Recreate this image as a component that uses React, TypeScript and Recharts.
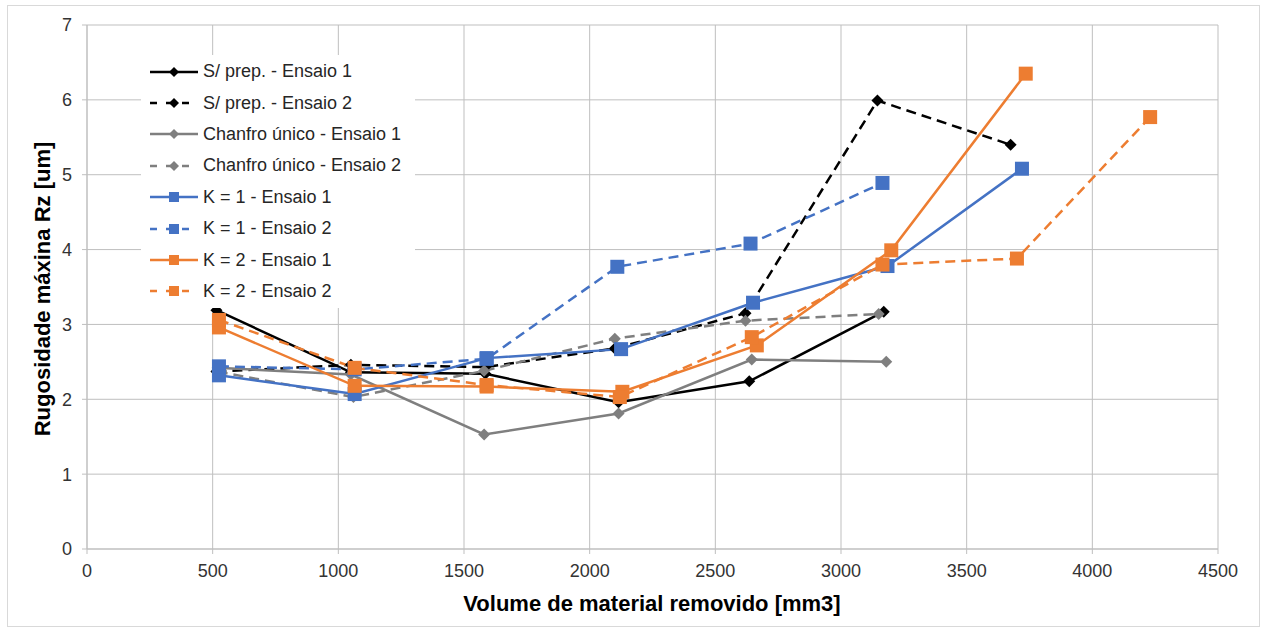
import React from "react";
import { LineChart, Line, XAxis, YAxis, CartesianGrid, Label } from "recharts";

const X_TICKS = [0, 500, 1000, 1500, 2000, 2500, 3000, 3500, 4000, 4500];
const Y_TICKS = [0, 1, 2, 3, 4, 5, 6, 7];

const spE1X = [515, 1050, 1585, 2115, 2635, 3170];
const spE1Y = [3.19, 2.36, 2.34, 1.96, 2.24, 3.17];
const spE2X = [515, 1050, 1585, 2100, 2620, 3145, 3675];
const spE2Y = [2.37, 2.46, 2.43, 2.68, 3.15, 5.99, 5.4];
const chE1X = [520, 1050, 1580, 2115, 2645, 3180];
const chE1Y = [2.42, 2.33, 1.53, 1.81, 2.53, 2.5];
const chE2X = [520, 1060, 1580, 2100, 2620, 3150];
const chE2Y = [2.37, 2.03, 2.38, 2.81, 3.05, 3.14];
const k1E1X = [525, 1065, 1590, 2125, 2650, 3185, 3720];
const k1E1Y = [2.32, 2.07, 2.55, 2.67, 3.29, 3.78, 5.08];
const k1E2X = [525, 1065, 1590, 2110, 2640, 3165];
const k1E2Y = [2.44, 2.4, 2.54, 3.77, 4.08, 4.89];
const k2E1X = [525, 1065, 1590, 2130, 2665, 3200, 3735];
const k2E1Y = [2.96, 2.18, 2.17, 2.1, 2.72, 3.99, 6.35];
const k2E2X = [525, 1065, 1590, 2120, 2645, 3165, 3700, 4230];
const k2E2Y = [3.06, 2.42, 2.19, 2.03, 2.83, 3.8, 3.88, 5.77];

const BLACK = "#000000";
const GRAY = "#7f7f7f";
const BLUE = "#4472c4";
const ORANGE = "#ed7d31";
const DASH = "10 6";
const FONT = "'Liberation Sans', Arial, sans-serif";

const zip = (xs: number[], ys: number[]) => xs.map((x, i) => ({ x, y: ys[i] }));

type Shape = "diamond" | "square";

const series: { name: string; data: { x: number; y: number }[]; color: string; dashed: boolean; shape: Shape }[] = [
  { name: "S/ prep. - Ensaio 1", data: zip(spE1X, spE1Y), color: BLACK, dashed: false, shape: "diamond" },
  { name: "S/ prep. - Ensaio 2", data: zip(spE2X, spE2Y), color: BLACK, dashed: true, shape: "diamond" },
  { name: "Chanfro único - Ensaio 1", data: zip(chE1X, chE1Y), color: GRAY, dashed: false, shape: "diamond" },
  { name: "Chanfro único - Ensaio 2", data: zip(chE2X, chE2Y), color: GRAY, dashed: true, shape: "diamond" },
  { name: "K = 1 - Ensaio 1", data: zip(k1E1X, k1E1Y), color: BLUE, dashed: false, shape: "square" },
  { name: "K = 1 - Ensaio 2", data: zip(k1E2X, k1E2Y), color: BLUE, dashed: true, shape: "square" },
  { name: "K = 2 - Ensaio 1", data: zip(k2E1X, k2E1Y), color: ORANGE, dashed: false, shape: "square" },
  { name: "K = 2 - Ensaio 2", data: zip(k2E2X, k2E2Y), color: ORANGE, dashed: true, shape: "square" },
];

function Marker({ cx, cy, shape, color, size }: { cx: number; cy: number; shape: Shape; color: string; size: number }) {
  if (shape === "square") {
    return <rect x={cx - size / 2} y={cy - size / 2} width={size} height={size} fill={color} stroke="none" />;
  }
  const r = size / 2;
  return <polygon points={`${cx},${cy - r} ${cx + r},${cy} ${cx},${cy + r} ${cx - r},${cy}`} fill={color} />;
}

// white legend box that sits over the plot, like the original
function LegendBox() {
  return (
    <div
      style={{
        position: "absolute",
        left: 141,
        top: 55,
        width: 274,
        height: 253,
        background: "#fff",
        paddingTop: 1,
        boxSizing: "border-box",
      }}
    >
      {series.map((s) => (
        <div key={s.name} style={{ display: "flex", alignItems: "center", height: 31.4 }}>
          <svg width={62} height={14} style={{ flex: "none" }}>
            <line
              x1={9}
              y1={7}
              x2={57}
              y2={7}
              stroke={s.color}
              strokeWidth={2.5}
              strokeDasharray={s.dashed ? "7 9" : undefined}
            />
            <Marker cx={33} cy={7} shape={s.shape} color={s.color} size={s.shape === "square" ? 10 : 10} />
          </svg>
          <span style={{ fontFamily: FONT, fontSize: 18, color: "#262626", whiteSpace: "nowrap" }}>{s.name}</span>
        </div>
      ))}
    </div>
  );
}

export default function App() {
  return (
    <div style={{ position: "absolute", left: 0, top: 0, width: 1267, height: 632, background: "#fff" }}>
      <div
        style={{
          position: "absolute",
          left: 7,
          top: 5,
          width: 1253,
          height: 622,
          border: "1px solid #d9d9d9",
          boxSizing: "border-box",
        }}
      />
      <LineChart
        width={1267}
        height={632}
        margin={{ top: 25, right: 49, bottom: 53, left: 0 }}
        style={{ position: "absolute", left: 0, top: 0 }}
      >
        <CartesianGrid stroke="#bfbfbf" strokeWidth={1} />
        <XAxis
          type="number"
          dataKey="x"
          domain={[0, 4500]}
          ticks={X_TICKS}
          interval={0}
          height={30}
          stroke="#bfbfbf"
          tickSize={5}
          tickMargin={10}
          tick={{ fill: "#333", fontSize: 18, fontFamily: FONT }}
        >
          <Label
            content={() => (
              <text x={652} y={611} textAnchor="middle" fontFamily={FONT} fontSize={22} fontWeight="bold" fill="#000">
                Volume de material removido [mm3]
              </text>
            )}
          />
        </XAxis>
        <YAxis
          type="number"
          domain={[0, 7]}
          ticks={Y_TICKS}
          interval={0}
          width={87}
          stroke="#bfbfbf"
          tickSize={5}
          tickMargin={10}
          tick={{ fill: "#333", fontSize: 18, fontFamily: FONT }}
        >
          <Label
            content={() => (
              <text
                x={50}
                y={289}
                transform="rotate(-90 50 289)"
                textAnchor="middle"
                fontFamily={FONT}
                fontSize={22}
                fontWeight="bold"
                fill="#000"
              >
                Rugosidade máxina Rz [um]
              </text>
            )}
          />
        </YAxis>
        {series.map((s) => (
          <Line
            key={s.name}
            data={s.data}
            dataKey="y"
            name={s.name}
            type="linear"
            stroke={s.color}
            strokeWidth={2.5}
            strokeDasharray={s.dashed ? DASH : undefined}
            isAnimationActive={false}
            activeDot={false}
            dot={(p: any) => (
              <Marker
                key={`${s.name}-${p.index}`}
                cx={p.cx}
                cy={p.cy}
                shape={s.shape}
                color={s.color}
                size={s.shape === "square" ? 14 : 12}
              />
            )}
          />
        ))}
      </LineChart>
      <LegendBox />
    </div>
  );
}
